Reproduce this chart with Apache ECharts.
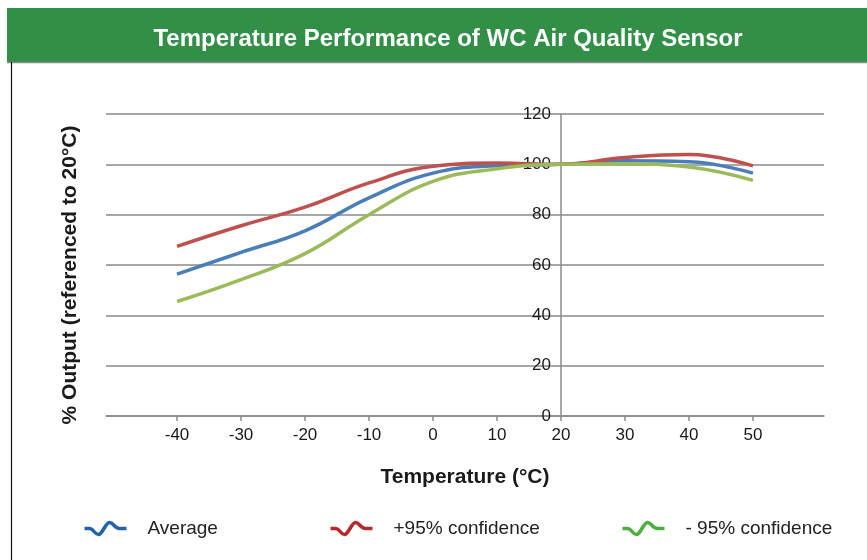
<!DOCTYPE html>
<html>
<head>
<meta charset="utf-8">
<script src="https://cdn.jsdelivr.net/npm/echarts@6/dist/echarts.min.js"></script>
<style>
html,body{margin:0;padding:0;background:#fff;}
#chart{width:867px;height:560px;}
</style>
</head>
<body>
<div id="chart"></div>
<script>
const temperatures = [-40, -30, -20, -10, 0, 10, 20, 30, 40, 50];
const xTickLabels = [-40, -30, -20, -10, 0, 10, 20, 30, 40, 50];
const averageValues = [56.4, 65, 73.6, 86.7, 96.5, 99.4, 100, 101.4, 101, 96.5];
const plus95Values = [67.4, 75.6, 83, 92.6, 99.2, 100.5, 100, 102.7, 103.9, 99.4];
const minus95Values = [45.5, 54.2, 64.5, 80, 93.2, 98.2, 100, 100.2, 98.9, 93.6];
const seriesNames = ['Average', '+95% confidence', '- 95% confidence'];

const FONT = '"Liberation Sans", Arial, sans-serif';
const GRID_COLOR = '#8a8a8a';
const wave = 'path://M0,7 L5,7 C9,7 10,13 14,13 C18,13 21,1 25,1 C29,1 30,7 35,7 L42,7';

function pairs(xs, ys) { return xs.map((x, i) => [x, ys[i]]); }

function legendAt(left, name, color) {
  return {
    left: left, top: 519, padding: 0,
    itemWidth: 42, itemHeight: 14,
    data: [{ name: name, icon: wave, itemStyle: { color: 'none', borderColor: color, borderWidth: 3.5 } }],
    textStyle: { fontFamily: FONT, fontSize: 19, color: '#222', padding: [0, 0, 0, 16] },
    selectedMode: false
  };
}

const chart = echarts.init(document.getElementById('chart'), null, { renderer: 'canvas' });
chart.setOption({
  animation: false,
  backgroundColor: '#fff',
  graphic: [
    { type: 'rect', z: 0, shape: { x: 7, y: 8, width: 870, height: 54 }, style: { fill: '#318f48' } },
    { type: 'line', z: 0, shape: { x1: 7, y1: 62.5, x2: 867, y2: 62.5 }, style: { stroke: '#8c8c8c', lineWidth: 1.5 } },
    { type: 'line', z: 0, shape: { x1: 11.5, y1: 62, x2: 11.5, y2: 560 }, style: { stroke: '#111', lineWidth: 1.2 } }
  ],
  title: {
    text: 'Temperature Performance of WC Air Quality Sensor',
    left: 443, top: 22, textAlign: 'center', z: 10,
    textStyle: { fontFamily: FONT, fontSize: 24, fontWeight: 'bold', color: '#fff' }
  },
  grid: { left: 106, right: 43, top: 114, bottom: 144 },
  xAxis: {
    type: 'value', min: -51.1, max: 61.1,
    name: 'Temperature (°C)', nameLocation: 'middle', nameGap: 51,
    nameTextStyle: { fontFamily: FONT, fontSize: 21, fontWeight: 'bold', color: '#1a1a1a' },
    axisLine: { show: true, onZero: false, lineStyle: { color: GRID_COLOR, width: 1.5 } },
    axisTick: { show: true, length: 5, customValues: xTickLabels, lineStyle: { color: GRID_COLOR, width: 1.5 } },
    axisLabel: { customValues: xTickLabels, fontFamily: FONT, fontSize: 17, color: '#1a1a1a', margin: 11 },
    splitLine: { show: false }
  },
  yAxis: {
    type: 'value', min: 0, max: 120, interval: 20,
    position: 'left', offset: -455,
    name: '% Output (referenced to 20°C)', nameLocation: 'middle', nameGap: 480,
    nameTextStyle: { fontFamily: FONT, fontSize: 21, fontWeight: 'bold', color: '#1a1a1a', padding: [0, 20, 0, 0] },
    axisLine: { show: true, lineStyle: { color: GRID_COLOR, width: 1.5 } },
    axisTick: { show: false },
    axisLabel: { fontFamily: FONT, fontSize: 17, color: '#1a1a1a', margin: 10 },
    splitLine: { show: true, lineStyle: { color: GRID_COLOR, width: 1.5 } }
  },
  legend: [
    legendAt(82, seriesNames[0], '#2560aa'),
    legendAt(328, seriesNames[1], '#b5282e'),
    legendAt(620, seriesNames[2], '#4caf3c')
  ],
  series: [
    { name: seriesNames[0], type: 'line', smooth: 0.45, symbol: 'none', data: pairs(temperatures, averageValues),
      lineStyle: { color: '#4a7ebb', width: 3.5 }, itemStyle: { color: '#4a7ebb' } },
    { name: seriesNames[1], type: 'line', smooth: 0.45, symbol: 'none', data: pairs(temperatures, plus95Values),
      lineStyle: { color: '#c0504d', width: 3.5 }, itemStyle: { color: '#c0504d' } },
    { name: seriesNames[2], type: 'line', smooth: 0.45, symbol: 'none', data: pairs(temperatures, minus95Values),
      lineStyle: { color: '#9bbb59', width: 3.5 }, itemStyle: { color: '#9bbb59' } }
  ]
});
</script>
</body>
</html>
